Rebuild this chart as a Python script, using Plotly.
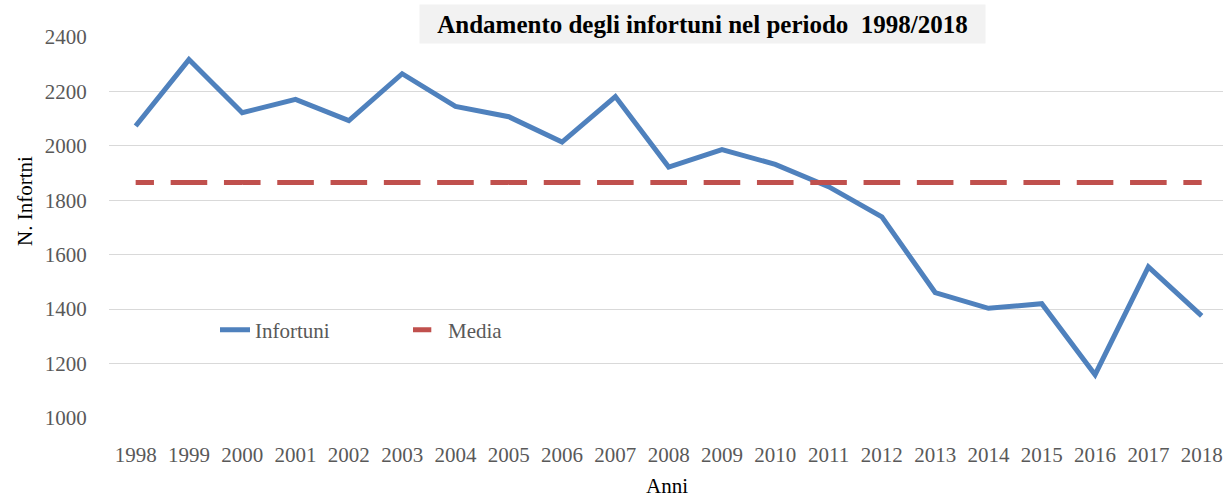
import plotly.graph_objects as go

anni = ["1998", "1999", "2000", "2001", "2002", "2003", "2004", "2005", "2006", "2007",
        "2008", "2009", "2010", "2011", "2012", "2013", "2014", "2015", "2016", "2017", "2018"]
infortuni = [2073, 2317, 2122, 2171, 2093, 2265, 2145, 2107, 2014, 2181,
             1922, 1986, 1932, 1850, 1739, 1461, 1403, 1420, 1159, 1555, 1375]
media = [1865] * len(anni)

y_ticks = [1000, 1200, 1400, 1600, 1800, 2000, 2200, 2400]

FONT = "Liberation Serif, Times New Roman, serif"
W, H = 1223, 497
L, R, T, B = 109, 0, 37, 79
PW, PH = W - L - R, H - T - B


def px_x(p):
    return (p - L) / PW


def px_y(p):
    return (H - B - p) / PH


fig = go.Figure()
fig.add_trace(go.Scatter(
    x=anni, y=infortuni, name="Infortuni", mode="lines",
    line=dict(color="#4F81BD", width=5),
))
fig.add_trace(go.Scatter(
    x=anni, y=media, name="Media", mode="lines",
    line=dict(color="#C0504D", width=5, dash="18.3px,16.7px,18.3px,0px"),
))

fig.update_layout(
    width=W, height=H,
    margin=dict(l=L, r=R, t=T, b=B, pad=0),
    paper_bgcolor="white", plot_bgcolor="white",
    font=dict(family=FONT, size=21, color="#595959"),
    showlegend=True,
    legend=dict(
        orientation="h", x=px_x(215), xanchor="left",
        y=px_y(330), yanchor="middle",
        font=dict(family=FONT, size=21, color="#595959"),
        bgcolor="rgba(0,0,0,0)", entrywidth=148, entrywidthmode="pixels",
    ),
    xaxis=dict(
        type="category", range=[-0.5, 20.4],
        showgrid=False, zeroline=False, showline=False,
        ticks="outside", ticklen=18, tickcolor="white",
        tickfont=dict(family=FONT, size=21, color="#595959"),
    ),
    yaxis=dict(
        range=[1000, 2400], tickvals=y_ticks,
        showgrid=True, gridcolor="#D9D9D9", gridwidth=1,
        zeroline=False, showline=False,
        ticks="outside", ticklen=17, tickcolor="white",
        tickfont=dict(family=FONT, size=21, color="#595959"),
    ),
    annotations=[
        dict(
            text="<b>Andamento degli infortuni nel periodo  1998/2018</b>",
            xref="paper", yref="paper",
            x=px_x(702), y=px_y(24),
            xanchor="center", yanchor="middle", showarrow=False,
            font=dict(family=FONT, size=25, color="black"),
            bgcolor="#F2F2F2", borderpad=0, width=565, height=38,
        ),
        dict(
            text="N. Infortni", xref="paper", yref="paper",
            x=px_x(25), y=px_y(201),
            xanchor="center", yanchor="middle", textangle=-90, showarrow=False,
            font=dict(family=FONT, size=21, color="black"),
        ),
        dict(
            text="Anni", xref="paper", yref="paper",
            x=px_x(667), y=px_y(486),
            xanchor="center", yanchor="middle", showarrow=False,
            font=dict(family=FONT, size=21, color="black"),
        ),
    ],
)

fig.write_html(
    "out.html",
    config={"displayModeBar": False},
    post_script="document.body.style.margin='0px';",
)
